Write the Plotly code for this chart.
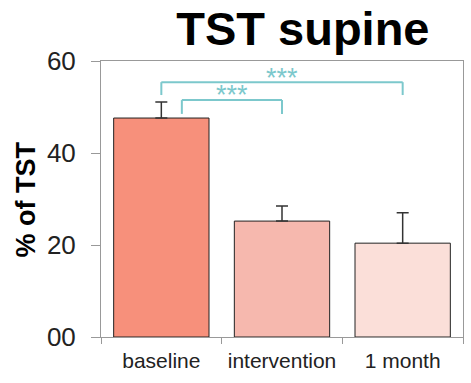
import plotly.graph_objects as go

# Share of total sleep time spent supine
categories = ["baseline", "intervention", "1 month"]
values = [47.6, 25.2, 20.4]
errors_up = [3.5, 3.3, 6.6]
bar_colors = ["#F7907B", "#F6B8AE", "#FBDFD9"]

y_tickvals = [0, 20, 40, 60]
y_ticktext = ["00", "20", "40", "60"]

# Significance brackets: (left x, right x, bar height, leg bottom, label height, label)
brackets = [
    (0.17, 1.0, 51.5, 48.5, 52.6, "***"),
    (0.0, 2.0, 55.4, 52.6, 56.4, "***"),
]
sig_color = "#7CC8CC"

fig = go.Figure()
fig.add_trace(go.Bar(
    x=categories,
    y=values,
    marker=dict(color=bar_colors, line=dict(color="#222222", width=1)),
    error_y=dict(type="data", symmetric=False, array=errors_up,
                 arrayminus=[0] * len(values), color="#333333",
                 thickness=1.5, width=6),
    width=0.79,
))

shapes = []
for x0, x1, yb, yl, ys, txt in brackets:
    shapes.append(dict(type="line", xref="x", yref="y", x0=x0, x1=x1, y0=yb, y1=yb,
                       line=dict(color=sig_color, width=2)))
    shapes.append(dict(type="line", xref="x", yref="y", x0=x0, x1=x0, y0=yl, y1=yb,
                       line=dict(color=sig_color, width=2)))
    shapes.append(dict(type="line", xref="x", yref="y", x0=x1, x1=x1, y0=yl, y1=yb,
                       line=dict(color=sig_color, width=2)))
    fig.add_annotation(x=(x0 + x1) / 2, y=ys, xref="x", yref="y", text=txt,
                       showarrow=False, yanchor="middle",
                       font=dict(color=sig_color, size=27, family="Liberation Sans"))

# Rotated y-axis title placed to the left of the tick labels
fig.add_annotation(text="<b>% of TST</b>", xref="paper", yref="paper",
                   x=-0.206, y=0.5, xanchor="center", yanchor="middle",
                   textangle=-90, showarrow=False,
                   font=dict(size=27, color="black", family="Liberation Sans"))

fig.update_layout(
    width=471, height=383,
    margin=dict(l=101, r=8, t=61, b=46),
    paper_bgcolor="white", plot_bgcolor="white",
    showlegend=False,
    shapes=shapes,
    title=dict(text="<b>TST supine</b>", x=0.643, xanchor="center", y=0.925,
               yanchor="middle", font=dict(size=47, color="black",
                                           family="Liberation Sans")),
    font=dict(family="Liberation Sans", color="#222222"),
    xaxis=dict(type="category", tickson="boundaries", ticks="outside", ticklen=6,
               tickcolor="#999999", showline=True, linecolor="#999999",
               linewidth=1, mirror=True, tickfont=dict(size=21, color="#222222"),
               ticklabelstandoff=5, range=[-0.5, 2.5], showgrid=False),
    yaxis=dict(range=[0, 60], tickvals=y_tickvals, ticktext=y_ticktext,
               ticks="outside", ticklen=9, tickcolor="#999999", showline=True,
               linecolor="#999999", linewidth=1, mirror=True, showgrid=False,
               zeroline=False, ticklabelstandoff=10,
               tickfont=dict(size=26, color="#222222")),
)

fig.write_html("out.html")
